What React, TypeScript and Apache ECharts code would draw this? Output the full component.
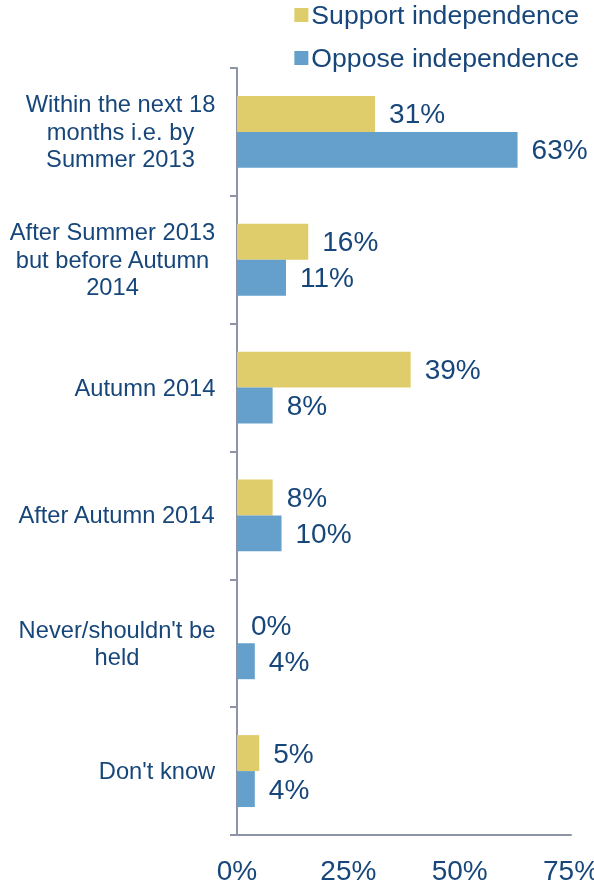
import React, { useEffect, useRef } from "react";
import * as echarts from "echarts";

const categories: string[] = [
  "Within the next 18\nmonths i.e. by\nSummer 2013",
  "After Summer 2013\nbut before Autumn\n2014",
  "Autumn 2014",
  "After Autumn 2014",
  "Never/shouldn't be\nheld",
  "Don't know",
];
const supportValues: number[] = [31, 16, 39, 8, 0, 5];
const opposeValues: number[] = [63, 11, 8, 10, 4, 4];
const seriesNames: string[] = ["Support independence", "Oppose independence"];
const xTicks: number[] = [0, 25, 50, 75];

const FONT = "'Liberation Sans', Arial, sans-serif";
const TEXT = "#17467A";
const AXIS = "#8D94A8";
const YELLOW = "#DFCD6B";
const BLUE = "#64A0CB";
const CAT_FONT_SIZE = 23.7;

function measure(text: string): number {
  const c = document.createElement("canvas");
  const ctx = c.getContext("2d");
  if (!ctx) return text.length * CAT_FONT_SIZE * 0.5;
  ctx.font = `${CAT_FONT_SIZE}px 'Liberation Sans', Arial, sans-serif`;
  return ctx.measureText(text).width;
}

export default function App() {
  const ref = useRef<HTMLDivElement>(null);
  useEffect(() => {
    if (!ref.current) return;
    const chart = echarts.init(ref.current, undefined, { renderer: "svg" });
    const rich: Record<string, any> = {};
    categories.forEach((cat, i) => {
      const w = Math.max(...cat.split("\n").map(measure));
      rich["w" + i] = {
        width: Math.ceil(w) + 1,
        align: "center",
        fontSize: CAT_FONT_SIZE,
        lineHeight: 27.5,
        color: TEXT,
        fontFamily: FONT,
      };
    });
    const labelStyle = {
      show: true,
      position: "right" as const,
      distance: 14,
      fontSize: 28,
      fontFamily: FONT,
      color: TEXT,
      formatter: "{c}%",
    };
    chart.setOption({
      animation: false,
      textStyle: { fontFamily: FONT },
      legend: {
        data: seriesNames,
        orient: "vertical",
        right: 15,
        top: 0,
        padding: 0,
        align: "left",
        icon: "rect",
        itemWidth: 14,
        itemHeight: 14,
        itemGap: 13,
        textStyle: { fontSize: 26.6, color: TEXT, fontFamily: FONT, lineHeight: 30, padding: [0, 0, 0, -2] },
      },
      grid: { left: 237, right: 23, top: 68, bottom: 52, containLabel: false, outerBoundsMode: "none" },
      xAxis: {
        type: "value",
        min: xTicks[0],
        max: xTicks[xTicks.length - 1],
        interval: 25,
        axisLine: { show: true, lineStyle: { color: AXIS, width: 2 } },
        axisTick: { show: false },
        splitLine: { show: false },
        axisLabel: {
          formatter: "{value}%",
          fontSize: 28,
          color: TEXT,
          fontFamily: FONT,
          margin: 21,
          hideOverlap: false,
        },
      },
      yAxis: {
        type: "category",
        data: categories,
        inverse: true,
        axisLine: { show: true, lineStyle: { color: AXIS, width: 2 } },
        axisTick: { show: true, length: 7, lineStyle: { color: AXIS, width: 2 } },
        axisLabel: {
          margin: 21,
          interval: 0,
          formatter: (v: string, idx: number) =>
            v
              .split("\n")
              .map((l) => "{w" + idx + "|" + l + "}")
              .join("\n"),
          rich,
        },
      },
      series: [
        {
          name: seriesNames[0],
          type: "bar",
          data: supportValues,
          itemStyle: { color: YELLOW },
          barGap: "0%",
          barCategoryGap: "43.75%",
          label: labelStyle,
        },
        {
          name: seriesNames[1],
          type: "bar",
          data: opposeValues,
          itemStyle: { color: BLUE },
          barGap: "0%",
          barCategoryGap: "43.75%",
          label: labelStyle,
        },
      ],
    });
    return () => chart.dispose();
  }, []);
  return (
    <div
      ref={ref}
      style={{ position: "fixed", left: 0, top: 0, width: 594, height: 887 }}
    />
  );
}
